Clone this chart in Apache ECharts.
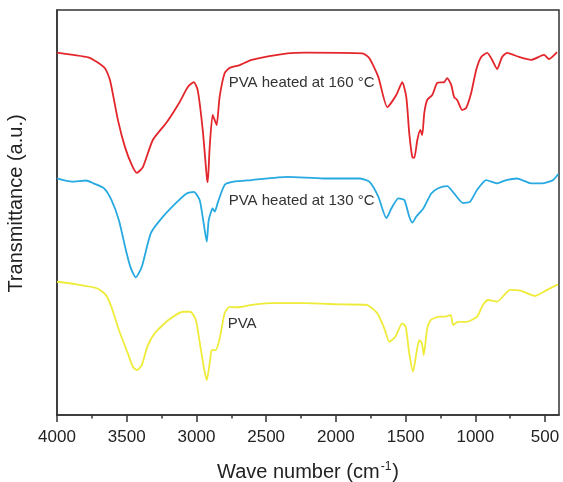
<!DOCTYPE html>
<html>
<head>
<meta charset="utf-8">
<script src="https://cdn.jsdelivr.net/npm/echarts@6/dist/echarts.min.js"></script>
<style>
  html, body { margin: 0; padding: 0; background: #fff; }
  #chart { width: 563px; height: 482px; }
</style>
</head>
<body>
<div id="chart"></div>
<script>
// FTIR spectra, wave number (cm-1) vs transmittance (a.u., offset per curve)
const majorTicks = [4000, 3500, 3000, 2500, 2000, 1500, 1000, 500]
const minorTicks = [3750, 3250, 2750, 2250, 1750, 1250, 750]

const wave160 = [4000, 3883, 3776, 3716, 3656, 3620, 3563, 3513, 3463, 3427, 3384, 3313, 3213, 3120, 3062, 3019,
    2991, 2955, 2926, 2919, 2905, 2884, 2869, 2855, 2834, 2798, 2762, 2690, 2604, 2347, 2218, 1810, 1760, 1696,
    1631, 1567, 1524, 1495, 1474, 1452, 1438, 1416, 1395, 1381, 1366, 1345, 1309, 1273, 1223, 1202, 1173, 1152,
    1130, 1094, 1066, 1030, 994, 958, 915, 880, 844, 808, 772, 686, 600, 507, 472, 414]
const trans160 = [89.5, 88.9, 88.3, 87.2, 85.6, 82.7, 72.8, 66.2, 61.7, 59.8, 61.2, 67.9, 72.3, 77.3, 81.0, 82.2,
    80.2, 70.4, 58.8, 57.5, 66.2, 74.1, 72.8, 71.6, 78.5, 84.4, 85.7, 86.4, 87.7, 89.3, 89.5, 89.3, 88.1, 83.5,
    76.0, 79.0, 82.2, 78.5, 69.6, 63.7, 63.5, 67.9, 70.4, 69.1, 74.6, 77.8, 79.0, 82.0, 82.2, 83.2, 81.5, 78.5,
    77.8, 75.3, 75.8, 79.5, 85.2, 88.4, 89.4, 87.7, 85.4, 88.4, 89.4, 88.4, 87.7, 88.9, 87.9, 89.6]

const wave130 = [4000, 3893, 3792, 3739, 3664, 3610, 3556, 3506, 3470, 3435, 3392, 3327, 3249, 3148, 3070, 3019,
    2977, 2948, 2926, 2912, 2884, 2869, 2848, 2798, 2733, 2604, 2347, 2089, 1831, 1760, 1696, 1638, 1602, 1552,
    1509, 1474, 1452, 1423, 1373, 1316, 1266, 1202, 1152, 1087, 1037, 987, 922, 844, 779, 701, 600, 522, 443, 405]
const trans130 = [58.4, 57.6, 57.9, 57.2, 56.0, 53.1, 48.1, 40.7, 36.2, 34.0, 36.6, 44.9, 48.6, 52.3, 54.7, 55.1,
    53.1, 47.3, 42.8, 48.1, 51.0, 50.2, 52.3, 56.8, 57.6, 58.0, 58.8, 58.4, 58.4, 57.6, 53.9, 48.6, 51.0, 53.5,
    53.1, 49.0, 47.5, 49.0, 51.0, 54.7, 56.0, 56.5, 54.7, 52.3, 52.7, 55.6, 58.0, 57.2, 58.0, 58.4, 57.2, 57.2, 58.0, 59.5]

const wavePva = [4000, 3868, 3714, 3649, 3610, 3556, 3492, 3456, 3427, 3392, 3352, 3299, 3198, 3095, 3044, 3005,
    2979, 2948, 2926, 2902, 2891, 2862, 2833, 2798, 2762, 2712, 2604, 2476, 2218, 1960, 1781, 1703, 1653, 1617,
    1574, 1524, 1499, 1474, 1447, 1423, 1402, 1383, 1370, 1345, 1319, 1255, 1216, 1177, 1159, 1126, 1061, 987,
    945, 908, 844, 751, 675, 572, 495, 407]
const transPva = [32.9, 32.3, 31.3, 29.6, 26.7, 21.0, 15.2, 11.9, 11.1, 12.3, 16.9, 20.2, 23.5, 25.5, 25.5, 23.5,
    18.5, 11.9, 8.6, 13.6, 16.0, 16.0, 18.9, 25.1, 26.7, 26.6, 27.2, 27.6, 27.6, 27.3, 27.2, 25.1, 21.4, 18.1,
    19.3, 22.6, 21.8, 15.2, 10.7, 15.2, 18.5, 17.7, 14.8, 21.4, 23.5, 24.3, 24.3, 24.7, 22.2, 23.0, 23.0, 24.3,
    27.2, 28.4, 28.0, 30.9, 30.7, 29.4, 30.7, 32.3]

const names = ['PVA heated at 160 °C', 'PVA heated at 130 °C', 'PVA']
const labelAt = [[2769, 82.0], [2769, 52.9], [2776, 22.5]]
const colors = ['#e3262b', '#27a9e1', '#efeb3a']

const font = 'Liberation Sans, Arial, sans-serif'
const frame = '#333'

function zip(xs, ys) {
    return xs.map((x, i) => [x, ys[i]])
}

function makeSeries(i, data) {
    return {
        name: names[i],
        type: 'line',
        data: data,
        showSymbol: false,
        smooth: 0.2,
        lineStyle: { color: colors[i], width: 1.8 },
        markPoint: {
            symbol: 'circle',
            symbolSize: 0,
            silent: true,
            data: [{ coord: labelAt[i] }],
            label: {
                show: true,
                position: 'right',
                distance: 0,
                formatter: names[i],
                color: '#333',
                fontFamily: font,
                fontSize: 15
            }
        }
    }
}

const chart = echarts.init(document.getElementById('chart'))

const xCommon = {
    type: 'value',
    min: 400,
    max: 4000,
    inverse: true,
    splitLine: { show: false }
}

chart.setOption({
    animation: false,
    grid: {
        left: 57, right: 4, top: 10, bottom: 67,
        containLabel: false,
        outerBoundsMode: 'none',
        show: true, borderColor: frame, borderWidth: 1.5
    },
    xAxis: [
        Object.assign({}, xCommon, {
            name: '{a|Wave number (cm}{s|-1}{a|)}',
            nameLocation: 'middle',
            nameGap: 46,
            nameTextStyle: {
                rich: {
                    a: { fontFamily: font, fontSize: 20, color: '#222' },
                    s: { fontFamily: font, fontSize: 12, color: '#222', padding: [0, 1, 10, 1] }
                }
            },
            axisLine: { lineStyle: { color: frame, width: 1.5 } },
            axisTick: { customValues: majorTicks, length: 7, lineStyle: { color: frame, width: 1.5 } },
            axisLabel: {
                customValues: majorTicks,
                formatter: v => String(v),
                margin: 14,
                fontFamily: font,
                fontSize: 17,
                color: '#222'
            }
        }),
        Object.assign({}, xCommon, {
            position: 'bottom',
            axisLine: { show: false },
            axisTick: { customValues: minorTicks, length: 3.5, lineStyle: { color: frame, width: 1.5 } },
            axisLabel: { show: false }
        })
    ],
    yAxis: {
        type: 'value',
        min: 0,
        max: 100,
        name: 'Transmittance (a.u.)',
        nameLocation: 'middle',
        nameGap: 31,
        nameTextStyle: { fontFamily: font, fontSize: 20, color: '#222', padding: [0, 0, 0, 18] },
        axisLine: { show: true, lineStyle: { color: frame, width: 1.5 } },
        axisTick: { show: false },
        axisLabel: { show: false },
        splitLine: { show: false }
    },
    series: [
        makeSeries(0, zip(wave160, trans160)),
        makeSeries(1, zip(wave130, trans130)),
        makeSeries(2, zip(wavePva, transPva))
    ]
})
</script>
</body>
</html>
